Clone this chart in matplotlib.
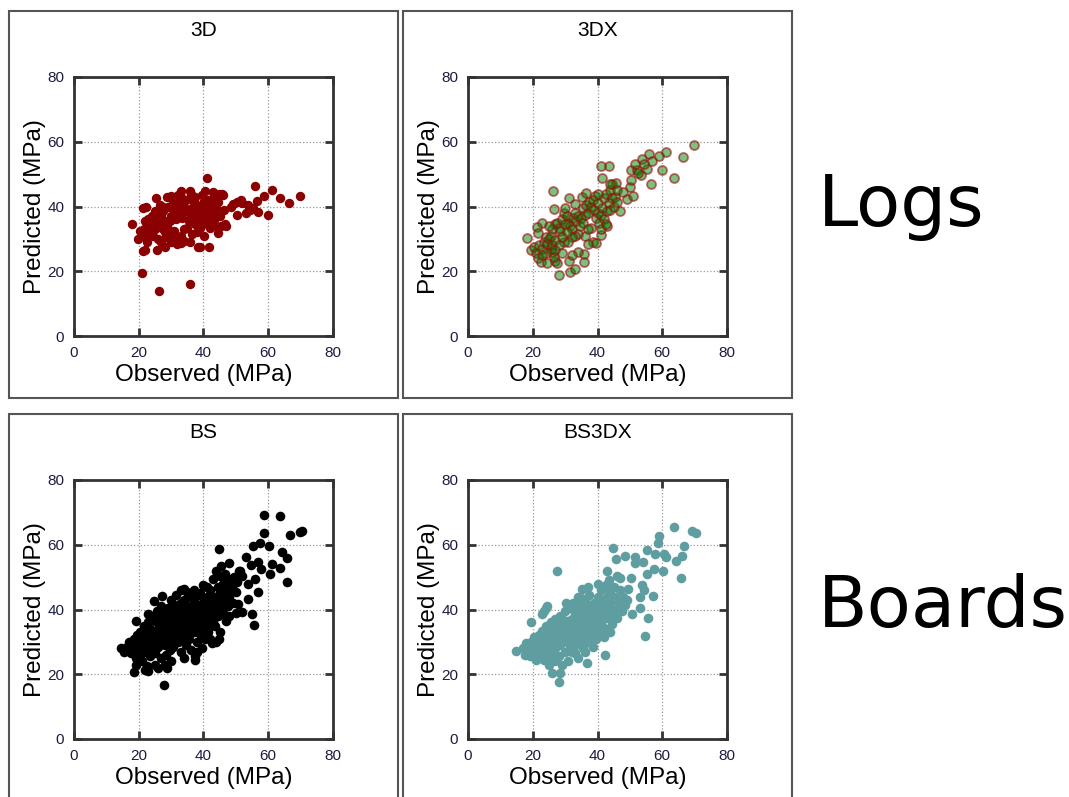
import matplotlib.pyplot as plt
from matplotlib.patches import Rectangle

# Logs - 3D (observed, predicted)
pts_3d = [
    (17.9, 34.6), (19.7, 30.0), (20.9, 19.6), (26.3, 13.9), (35.8, 16.0), (21.4, 26.3), (22.0, 26.6),
    (25.5, 26.7), (28.1, 27.4), (31.7, 28.4), (33.0, 28.6), (34.0, 29.2), (35.8, 29.0), (38.3, 27.6),
    (39.0, 27.6), (41.8, 27.4), (40.2, 30.8), (44.5, 31.8), (47.1, 33.9), (46.3, 38.9), (45.6, 44.0),
    (44.8, 44.0), (40.6, 44.7), (41.0, 48.7), (35.8, 44.7), (33.2, 44.7), (32.0, 43.5), (30.0, 43.2),
    (28.6, 43.0), (25.2, 42.6), (21.4, 39.5), (22.3, 39.8), (26.5, 40.5), (27.5, 40.0),
    (21.0, 31.0), (22.0, 30.5), (23.0, 32.0), (23.5, 33.5), (24.0, 34.5), (22.5, 29.0), (24.5, 31.0),
    (25.0, 33.0), (25.5, 35.0), (26.0, 36.5), (26.5, 34.0), (27.0, 37.5), (27.5, 38.5), (24.0, 37.0),
    (23.0, 36.0), (26.0, 30.0), (27.0, 29.0), (28.5, 30.5), (28.0, 32.0), (29.0, 33.0), (29.6, 32.0),
    (30.5, 31.5), (31.0, 32.5), (29.5, 35.5), (30.0, 37.0), (31.0, 38.5), (31.5, 36.0), (32.0, 39.5),
    (32.5, 41.0), (33.0, 38.0), (33.5, 36.5), (34.0, 40.0), (34.5, 42.0), (35.0, 38.5), (35.5, 35.5),
    (35.0, 33.5), (34.0, 33.0), (36.0, 37.0), (36.5, 39.5), (37.0, 41.5), (37.5, 43.0), (37.0, 36.0),
    (37.5, 34.5), (38.0, 36.5), (38.0, 38.5), (38.5, 40.0), (39.0, 35.0), (39.5, 37.0), (39.0, 33.5),
    (40.0, 38.5), (40.0, 41.0), (40.5, 39.5), (40.5, 36.0), (41.0, 34.5), (41.0, 37.5), (41.5, 42.0),
    (41.5, 39.0), (42.0, 36.5), (42.0, 33.5), (42.5, 40.5), (42.5, 35.0), (43.0, 38.0), (43.0, 42.5),
    (43.5, 36.5), (44.0, 39.5), (44.0, 34.0), (44.5, 41.5), (45.0, 37.0), (45.5, 34.0), (46.0, 43.5),
    (46.5, 34.5), (43.0, 44.5), (39.5, 43.5), (36.0, 44.0), (33.0, 43.0), (30.5, 41.5), (29.0, 40.0),
    (28.0, 35.5), (27.5, 33.0), (25.0, 38.5), (22.0, 35.5), (21.5, 33.0), (20.5, 32.5), (36.5, 31.5),
    (38.0, 32.0), (33.0, 31.0), (30.0, 29.0), (32.0, 30.0), (49.2, 40.8), (50.4, 41.5), (51.7, 42.1),
    (50.4, 37.5), (53.6, 40.5), (53.1, 37.9), (55.3, 39.4), (56.8, 38.2), (56.6, 41.8), (58.8, 43.3),
    (59.9, 37.3), (55.9, 46.4), (61.1, 45.2), (63.5, 42.5), (66.3, 41.1), (69.8, 43.3), (48.5, 40.0),
    (52.0, 41.0), (54.5, 39.0),
]

# Logs - 3DX
pts_3dx = [
    (18.1, 30.3), (19.6, 26.7), (20.5, 27.5), (21.0, 25.5), (21.5, 24.0), (22.5, 22.8), (24.3, 22.6),
    (27.0, 23.1), (27.5, 22.6), (28.1, 18.8), (31.5, 19.7), (33.2, 20.7), (31.1, 23.1), (35.8, 25.3),
    (35.8, 23.0), (38.5, 29.0), (39.4, 28.8), (41.2, 31.3), (29.8, 29.0), (22.9, 34.9), (21.3, 33.8),
    (21.5, 31.8), (26.3, 44.9), (26.6, 39.3), (31.3, 42.7), (33.0, 40.8), (35.6, 39.5), (35.2, 42.8),
    (36.5, 44.1), (39.1, 43.1),
    (22.0, 28.0), (23.0, 27.0), (23.5, 29.0), (24.0, 30.5), (24.5, 28.5), (25.0, 30.0), (25.5, 31.0),
    (25.5, 27.0), (26.0, 26.0), (26.5, 24.5), (26.0, 28.0), (27.0, 29.5), (27.0, 34.5), (27.5, 35.0),
    (28.0, 33.5), (28.5, 32.5), (29.0, 36.0), (29.5, 38.0), (30.0, 39.5), (30.5, 37.0), (31.0, 35.0),
    (31.5, 34.0), (32.0, 33.0), (32.5, 36.5), (33.0, 38.0), (33.5, 35.5), (34.0, 37.0), (34.5, 34.0),
    (35.0, 36.5), (35.5, 35.0), (36.0, 37.5), (36.0, 31.0), (34.0, 31.5), (33.0, 31.0), (32.0, 30.5),
    (30.5, 32.0), (31.0, 29.0), (36.5, 40.5), (37.0, 38.0), (37.5, 41.5), (38.0, 40.0), (38.5, 42.0),
    (39.0, 39.0), (39.5, 36.5), (40.0, 38.0), (40.0, 41.0), (40.5, 35.0), (41.0, 37.5), (41.0, 33.0),
    (41.5, 39.5), (42.0, 42.5), (42.0, 36.0), (42.5, 44.0), (43.0, 38.5), (43.0, 34.0), (43.5, 41.0),
    (44.0, 39.0), (44.0, 45.0), (44.5, 42.5), (45.0, 40.0), (45.5, 43.0), (46.0, 41.5), (42.5, 34.5),
    (38.0, 33.5), (37.0, 33.0), (29.0, 30.5), (28.0, 28.0), (27.0, 26.5), (24.0, 25.5), (23.0, 25.0),
    (26.0, 33.0), (25.0, 34.0), (30.0, 34.5), (40.0, 44.0), (44.5, 47.0), (45.6, 47.4), (44.0, 46.8),
    (46.0, 45.1), (41.5, 48.7), (41.2, 52.4), (43.5, 52.4), (47.1, 38.5), (49.2, 42.4), (51.0, 43.3),
    (50.0, 46.0), (50.2, 48.2), (50.4, 51.3), (52.2, 51.2), (51.7, 53.2), (53.3, 49.7), (53.7, 54.6),
    (55.2, 51.6), (56.0, 56.2), (56.8, 53.9), (56.6, 46.9), (58.9, 55.6), (60.0, 51.2), (61.2, 56.7),
    (63.5, 48.8), (66.3, 55.4), (69.7, 59.1), (54.5, 53.0), (52.5, 50.5), (48.0, 44.5), (37.0, 28.5),
    (34.0, 26.0), (32.0, 25.0), (29.0, 25.5),
]

# Boards - BS
pts_bs = [
    (58.8, 69.2), (63.5, 68.9), (58.7, 63.5), (66.7, 63.0), (69.8, 63.9), (70.5, 64.2), (55.3, 59.7),
    (57.5, 60.5), (60.2, 59.5), (44.8, 58.8), (53.0, 56.1), (56.9, 54.6), (64.3, 57.9), (65.7, 55.8),
    (61.3, 54.0), (54.6, 53.8), (57.7, 52.5), (60.4, 51.1), (63.6, 52.7), (65.7, 48.6), (48.0, 54.3),
    (51.3, 51.8), (55.9, 49.4), (53.7, 47.9), (56.8, 45.3), (53.7, 43.3), (51.9, 39.1), (54.9, 38.6),
    (55.7, 35.2), (50.7, 41.7), (19.1, 36.3), (14.4, 28.2), (18.5, 20.6), (21.8, 21.4), (27.9, 16.7),
    (28.8, 21.9), (24.8, 42.7), (27.2, 44.1), (23.0, 38.6), (40.2, 47.3), (34.0, 46.2), (37.5, 24.4),
    (44.7, 31.0),
    (15.5, 27), (16.5, 28.5), (17, 30), (17.5, 26.5), (18, 29), (18.5, 31), (19, 27.5), (19.5, 32),
    (19, 25), (20, 30), (20, 28), (20.5, 33), (20.5, 26),
    (21, 29.5), (21, 24), (21.5, 31), (21.5, 35), (22, 27), (22, 33), (22.5, 22.5), (22.5, 30), (23, 36),
    (23, 28), (23.5, 34), (23.5, 25.5), (24, 31.5), (24, 38), (24.5, 29), (24.5, 33), (25, 36.5),
    (25, 26.5), (25, 23), (25.5, 31), (25.5, 39.5),
    (26, 34), (26, 28.5), (26.5, 37.5), (26.5, 30.5), (27, 25), (27, 41), (27.5, 33), (27.5, 36), (28, 29),
    (28, 38.5), (28.5, 31.5), (28.5, 26), (29, 35), (29, 40.5), (29.5, 33), (29.5, 27.5), (30, 37),
    (30, 30.5), (30, 43),
    (30.5, 34.5), (30.5, 28.5), (31, 39), (31, 32), (31.5, 36), (31.5, 44.5), (32, 30), (32, 41.5),
    (32.5, 33.5), (32.5, 37.5), (33, 27), (33, 46), (33.5, 35), (33.5, 40), (34, 31.5), (34, 43),
    (34.5, 37), (34.5, 29), (35, 34), (35, 41), (35, 45.5),
    (35.5, 38.5), (35.5, 31), (36, 44), (36, 27.5), (36.5, 36), (36.5, 40.5), (37, 33), (37, 42.5),
    (37.5, 25.5), (37.5, 38), (38, 35), (38, 30), (38.5, 41), (38.5, 44.5), (39, 37), (39, 32.5),
    (39.5, 39.5), (39.5, 28), (40, 42), (40, 35.5), (40, 47.5),
    (40.5, 38.5), (40.5, 31), (41, 44), (41, 36.5), (41.5, 40), (41.5, 33), (42, 46), (42, 42.5),
    (42.5, 37), (42.5, 29.5), (43, 49.5), (43, 39.5), (43.5, 44), (43.5, 35), (44, 52), (44, 41.5),
    (44.5, 47), (44.5, 38), (45, 45.5), (45, 33), (45, 50.5),
    (45.5, 53.5), (45.5, 42), (46, 48), (46, 39), (46.5, 44.5), (46.5, 51), (47, 36.5), (47, 46),
    (47.5, 41), (47.5, 49.5), (48, 44), (48, 38), (48.5, 47), (49, 42), (49.5, 50), (50, 45.5),
    (50.5, 48.5), (50, 39), (51, 52), (52, 50.5),
    (19, 23), (23, 21), (26, 22), (30, 24), (34, 25), (38, 27), (42, 31), (44, 30), (28, 23),
    (18, 27), (20.5, 30.5), (22, 29), (22.5, 32), (23.5, 30), (24, 27.5), (25, 32), (26, 29.5), (26.5, 32),
    (27, 35), (27.5, 30), (28, 34), (28.5, 37), (29, 32), (29.5, 30), (30, 35.5), (31, 30), (31.5, 38),
    (32, 35), (32.5, 31.5), (33, 39), (33.5, 33), (34, 36), (34.5, 39), (35, 32), (35.5, 36), (36, 38.5),
    (36.5, 33.5), (37, 40), (37.5, 35.5), (38, 38), (38.5, 33), (39, 41.5), (39.5, 36), (40, 39.5),
    (40.5, 34), (41, 41.5), (41.5, 38), (42, 35), (42.5, 40.5), (43, 36.5), (43.5, 42), (44, 39),
    (44.5, 43.5), (45, 40.5), (46, 43), (47, 44), (48, 46), (49, 48), (41, 47), (39, 45), (37, 46),
    (33, 42), (30, 40.5), (27, 39),
]

# Boards - BS3DX
pts_bs3dx = [
    (63.7, 65.4), (69.2, 64.1), (70.5, 63.5), (58.9, 62.6), (58.7, 60.5), (66.8, 59.7), (55.3, 58.5),
    (60.4, 57.2), (61.1, 56.3), (57.9, 57.0), (66.1, 56.5), (64.3, 55.0), (51.5, 56.3), (53.9, 54.8),
    (51.7, 54.4), (48.4, 56.4), (45.8, 55.5), (44.8, 59.0), (57.6, 52.4), (60.2, 51.8), (55.2, 51.0),
    (65.9, 49.7), (50.5, 49.7), (49.4, 46.4), (53.8, 47.6), (54.5, 45.9), (57.2, 44.3), (53.0, 43.9),
    (27.4, 52.0), (35.1, 46.3), (55.5, 37.4), (54.6, 31.8), (50.7, 38.6), (53.1, 40.5), (19.4, 36.0),
    (14.7, 27.3), (26.0, 20.4), (28.1, 17.7), (28.3, 20.3), (36.8, 23.5), (42.4, 25.8), (23.0, 38.6),
    (24.5, 41.2), (30.2, 42.0), (46.8, 49.7), (23.5, 39.5), (24.0, 40.5),
    (17, 28), (17.5, 26), (18, 29.5), (18.5, 27), (19, 25.5), (19.5, 30), (20, 28), (20, 26),
    (20.5, 31.5), (21, 24.5), (21, 29), (21.5, 27), (22, 32), (22, 25), (22.5, 29.5), (23, 27),
    (23, 33.5), (23.5, 24.5), (24, 30), (24, 35), (24.5, 27.5), (25, 32), (25, 25), (25.5, 29),
    (25.5, 36), (26, 33.5), (26, 26.5), (26.5, 30.5), (27, 37), (27, 28), (27.5, 34), (28, 31),
    (28, 25.5), (28.5, 38), (28.5, 29), (29, 35), (29, 23), (29.5, 32), (30, 39.5), (30, 27),
    (30.5, 36.5), (30.5, 30), (31, 33.5), (31, 24), (31.5, 40.5), (31.5, 28), (32, 37), (32, 31.5),
    (32.5, 34.5), (32.5, 42), (33, 29), (33, 39), (33.5, 36), (33.5, 32), (34, 41), (34, 25),
    (34.5, 38), (34.5, 30), (35, 34.5), (35, 43.5), (35.5, 40), (35.5, 28), (36, 36.5), (36, 32.5),
    (36.5, 42), (37, 38.5), (37, 30), (37.5, 35), (37.5, 44.5), (38, 40.5), (38, 33), (38.5, 37),
    (38.5, 28.5), (39, 42), (39, 35), (39.5, 39), (39.5, 31), (40, 44), (40, 37), (40.5, 33.5),
    (40.5, 41), (41, 46), (41, 38.5), (41.5, 35), (41.5, 43), (42, 40), (42, 31.5), (42.5, 47.5),
    (42.5, 37.5), (43, 44), (43, 34), (43.5, 41), (43.5, 49), (44, 38), (44, 45.5), (44.5, 42.5),
    (44.5, 35.5), (45, 47), (45, 40), (45.5, 44), (46, 37.5), (46, 50.5), (46.5, 42), (47, 46),
    (47.5, 39.5), (48, 44), (48.5, 41.5), (49, 43), (26, 31), (27, 32.5), (28, 35.5), (29, 33),
    (30, 34), (31, 36), (32, 34), (33, 35), (34, 33), (35, 37.5), (36, 39), (37, 36), (38, 38.5),
    (39, 36.5), (40, 39.5), (41, 40.5), (42, 42), (43, 38.5), (44, 40.5), (22, 27.5), (23, 30.5),
    (24, 28), (25, 27), (19, 28), (21, 31), (30, 31.5), (33, 26.5), (36, 27), (35, 30.5), (38, 31.5),
    (41, 34.5), (44, 33), (25, 23), (27, 24), (32, 27), (24, 33), (29, 37), (34, 44), (37, 47),
    (40, 48), (43, 52),
]

titles = ['3D', '3DX', 'BS', 'BS3DX']
datasets = [pts_3d, pts_3dx, pts_bs, pts_bs3dx]
ticks = [0, 20, 40, 60, 80]

W, H = 1069, 797
fig = plt.figure(figsize=(W / 100, H / 100), dpi=100)

# pixel layout of panel boxes and axes
box_x = [9, 403]
box_y = [(11, 398), (414, 805)]
ax_x = [74, 468]
ax_y = [77, 480]
ax_size = 259

tick_color = '#1c1c40'
styles = [
    dict(c='#8b0000', s=46, linewidths=0),
    dict(facecolors=(0.0, 0.5, 0.0, 0.5), edgecolors=(0.6, 0.05, 0.05, 0.6), s=42, linewidths=1.3),
    dict(c='black', s=48, linewidths=0),
    dict(c='#5f9ea0', s=48, linewidths=0),
]

for i, (pts, title, st) in enumerate(zip(datasets, titles, styles)):
    r, c = divmod(i, 2)
    bx0 = box_x[c]
    by0, by1 = box_y[r]
    fig.patches.append(Rectangle((bx0 / W, 1 - by1 / H), 389 / W, (by1 - by0) / H,
                                 transform=fig.transFigure, fill=False,
                                 ec='#555555', lw=1.5, zorder=0))
    fig.text((bx0 + 194.5) / W, 1 - (by0 + 19) / H, title, ha='center', va='center',
             fontsize=15, family='Liberation Sans')

    left = ax_x[c] / W
    bottom = 1 - (ax_y[r] + ax_size) / H
    ax = fig.add_axes([left, bottom, ax_size / W, ax_size / H])
    xs = [p[0] for p in pts]
    ys = [p[1] for p in pts]
    ax.scatter(xs, ys, zorder=3, **st)
    ax.set_xlim(0, 80)
    ax.set_ylim(0, 80)
    ax.set_xticks(ticks)
    ax.set_yticks(ticks)
    ax.grid(True, linestyle=':', color='#999999', linewidth=0.9)
    ax.tick_params(direction='in', length=6, width=2, color='#333333', top=True, right=True,
                   labelsize=11, labelcolor=tick_color, pad=7)
    for lab in ax.get_xticklabels() + ax.get_yticklabels():
        lab.set_family('Liberation Sans')
    for sp in ax.spines.values():
        sp.set_linewidth(2)
        sp.set_color('#333333')
    ax.set_xlabel('Observed (MPa)', fontsize=17.5, family='Liberation Sans', labelpad=3)
    ax.set_ylabel('Predicted (MPa)', fontsize=17.5, family='Liberation Sans', labelpad=1)

fig.text(818 / W, 1 - 207 / H, 'Logs', fontsize=52, family='DejaVu Sans', ha='left', va='center')
fig.text(818 / W, 1 - 607 / H, 'Boards', fontsize=52, family='DejaVu Sans', ha='left', va='center')

fig.savefig('out.png', dpi=100)
